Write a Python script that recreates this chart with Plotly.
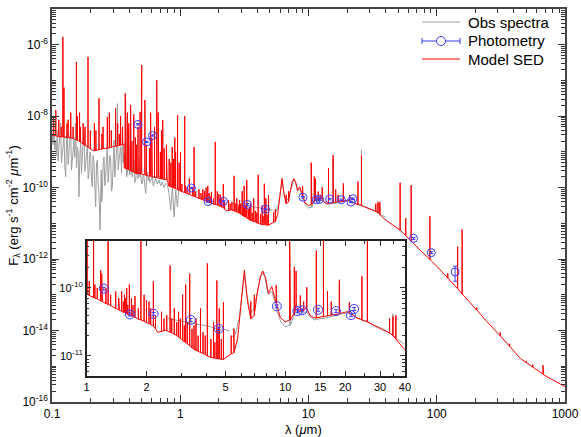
import plotly.graph_objects as go

# ---------------- data ----------------
# Model SED continuum: wavelength (micron), log10 flux (erg/s/cm2/um)
model_wl = [0.1, 0.107, 0.122, 0.144, 0.17, 0.206, 0.218, 0.26, 0.30, 0.364, 0.366, 0.45, 0.605, 0.79,
            0.816, 1.0, 1.2, 1.46, 1.8, 2.15, 2.28, 2.51, 3.04, 3.42, 4.14, 4.84, 5.44, 5.75, 5.98, 6.22,
            6.45, 6.65, 6.91, 7.2, 7.5, 7.7, 7.95, 8.22, 8.55, 8.83, 9.06, 9.42, 9.98, 10.6, 11.0, 11.3,
            11.7, 12.1, 12.7, 13.3, 13.9, 15.5, 16.8, 20.4, 22.9, 30.1, 39.4, 51.9, 74.3, 100, 157, 206,
            246, 313, 448, 681, 1000]
model_logf = [-8.53, -8.55, -8.58, -8.62, -8.75, -8.95, -8.96, -8.90, -8.85, -8.78, -9.45, -9.60, -9.70,
              -9.79, -9.95, -10.09, -10.20, -10.33, -10.45, -10.55, -10.65, -10.62, -10.77, -10.89, -11.01,
              -11.05, -10.96, -10.75, -10.28, -9.74, -10.20, -10.45, -10.42, -10.10, -9.82, -9.75, -9.85,
              -10.08, -9.98, -10.14, -10.25, -10.43, -10.50, -10.47, -10.38, -10.25, -10.35, -10.33, -10.29,
              -10.40, -10.44, -10.42, -10.40, -10.35, -10.44, -10.60, -10.89, -11.19, -11.75, -12.20,
              -12.96, -13.43, -13.75, -14.15, -14.78, -15.24, -15.57]

# Strong model emission lines: wavelength, base log flux, peak log flux
line_wl = [0.1026, 0.107, 0.1216, 0.124, 0.1335, 0.140, 0.155, 0.164, 0.1663, 0.175, 0.1909, 0.2326,
           0.25, 0.27, 0.280, 0.313, 0.3426, 0.3727, 0.3869, 0.397, 0.4102, 0.434, 0.4686, 0.4861,
           0.4959, 0.5007, 0.53, 0.5876, 0.63, 0.6563, 0.6725, 0.7136, 0.73, 0.866, 0.9069, 0.9531,
           1.005, 1.083, 1.176, 1.19, 1.282, 1.50, 1.55, 1.59, 1.64, 1.68, 1.75, 1.875, 1.945, 2.0,
           2.058, 2.166, 2.38, 2.63, 2.76, 2.9, 3.04, 3.15, 3.30, 3.55, 3.74, 4.05, 4.35, 4.52, 4.65,
           4.88, 6.98, 8.99, 10.51, 11.1, 11.33, 11.9, 12.37, 12.81, 14.32, 15.56, 16.3, 17.03, 18.71,
           21.0, 24.3, 25.89, 33.48, 34.8, 36.0, 51.81, 57.32, 63.18, 88.36, 121.9, 145.5, 157.7, 205,
           313, 370, 500, 560, 673]
line_base_logf = [-8.54, -8.55, -8.58, -8.58, -8.60, -8.61, -8.66, -8.70, -8.71, -8.78, -8.86, -8.93,
                  -8.91, -8.90, -8.89, -8.84, -8.81, -9.46, -9.48, -9.50, -9.52, -9.56, -9.60, -9.61,
                  -9.62, -9.62, -9.64, -9.68, -9.71, -9.72, -9.73, -9.75, -9.76, -9.99, -10.02, -10.05,
                  -10.09, -10.14, -10.19, -10.20, -10.24, -10.34, -10.36, -10.38, -10.40, -10.41, -10.43,
                  -10.47, -10.49, -10.51, -10.52, -10.56, -10.64, -10.65, -10.68, -10.72, -10.77, -10.80,
                  -10.85, -10.92, -10.95, -11.00, -11.03, -11.04, -11.04, -11.05, -10.40, -10.22, -10.47,
                  -10.40, -10.26, -10.34, -10.33, -10.30, -10.44, -10.42, -10.41, -10.40, -10.38, -10.36,
                  -10.47, -10.50, -10.66, -10.70, -10.75, -11.19, -11.34, -11.50, -12.01, -12.53, -12.83,
                  -12.97, -13.43, -14.15, -14.44, -14.90, -15.02, -15.22]
line_peak_logf = [-8.0, -7.83, -5.78, -7.2, -8.1, -7.9, -6.48, -7.9, -8.3, -8.2, -6.34, -7.50, -8.3,
                  -8.02, -7.9, -7.78, -8.0, -7.36, -7.9, -8.2, -7.69, -7.95, -8.3, -7.88, -7.05, -6.57,
                  -7.55, -7.9, -8.3, -6.99, -7.9, -8.4, -8.11, -8.86, -8.6, -7.97, -9.0, -8.0, -9.74,
                  -9.79, -8.86, -10.05, -10.1, -10.0, -9.95, -10.15, -10.12, -8.72, -10.1, -10.18, -10.2,
                  -9.9, -10.35, -9.67, -10.3, -10.35, -10.1, -9.95, -9.79, -10.45, -10.3, -9.64, -10.5,
                  -9.89, -10.3, -10.21, -10.1, -9.96, -9.3, -9.69, -9.75, -10.11, -10.2, -9.99, -9.45,
                  -9.09, -10.05, -10.2, -9.88, -10.21, -9.83, -9.1, -10.45, -10.42, -10.4, -9.86, -10.85,
                  -9.93, -10.80, -12.40, -11.65, -11.17, -13.36, -14.05, -14.37, -14.85, -14.95, -14.97]

# Weak model emission lines (the dense "grass" above the continuum)
weak_wl = [0.113, 0.118, 0.131, 0.146, 0.158, 0.181, 0.199, 0.214, 0.22, 0.245, 0.29, 0.325, 0.335,
           0.355, 0.3835, 0.389, 0.3935, 0.42, 0.447, 0.457, 0.545, 0.575, 0.60, 0.68, 0.70, 0.75, 0.78,
           0.82, 0.845, 0.886, 0.92, 0.98, 1.03, 1.10, 1.13, 1.25, 1.32, 1.40, 1.45, 1.53, 1.57, 1.61,
           1.71, 1.82, 2.10, 2.22, 2.45, 2.53, 2.68, 2.84, 2.96, 3.10, 3.21, 3.39, 3.47, 3.64, 3.85,
           3.95, 4.22, 4.42, 4.58, 4.76, 5.34, 5.51, 6.7]
weak_base_logf = [-8.57, -8.58, -8.60, -8.63, -8.68, -8.82, -8.92, -8.96, -8.96, -8.92, -8.87, -8.83,
                  -8.82, -8.79, -9.48, -9.48, -9.49, -9.54, -9.60, -9.61, -9.66, -9.68, -9.70, -9.74,
                  -9.75, -9.77, -9.78, -9.96, -9.98, -10.00, -10.03, -10.07, -10.11, -10.15, -10.16,
                  -10.23, -10.26, -10.30, -10.32, -10.36, -10.37, -10.39, -10.42, -10.46, -10.54, -10.60,
                  -10.63, -10.63, -10.66, -10.70, -10.74, -10.79, -10.82, -10.88, -10.90, -10.93, -10.96,
                  -10.98, -11.02, -11.03, -11.04, -11.05, -10.97, -10.95, -10.45]
weak_peak_logf = [-8.1, -8.3, -8.2, -8.3, -8.0, -8.3, -8.4, -8.2, -8.4, -8.5, -8.4, -8.2, -8.5, -8.3,
                  -8.5, -8.6, -8.4, -8.7, -8.6, -8.8, -8.8, -8.9, -8.6, -8.7, -9.0, -8.9, -8.8, -9.2,
                  -9.3, -9.2, -9.0, -9.3, -9.9, -9.95, -10.0, -10.0, -10.1, -10.05, -10.15, -10.2, -10.15,
                  -10.25, -10.25, -10.3, -10.3, -10.4, -10.45, -10.4, -10.45, -10.5, -10.45, -10.55,
                  -10.5, -10.6, -10.55, -10.7, -10.65, -10.7, -10.75, -10.8, -10.6, -10.75, -10.7, -10.6,
                  -10.2]

# Observed spectra (UV/optical segment and IR segment)
obs_uv_wl = [0.1005, 0.1020, 0.1036, 0.1051, 0.1067, 0.1083, 0.1100, 0.1116, 0.1133, 0.1150, 0.1168,
             0.1185, 0.1203, 0.1221, 0.1240, 0.1259, 0.1278, 0.1297, 0.1316, 0.1336, 0.1356, 0.1377,
             0.1398, 0.1419, 0.1440, 0.1462, 0.1484, 0.1506, 0.1529, 0.1552, 0.1576, 0.1600, 0.1624,
             0.1648, 0.1673, 0.1698, 0.1724, 0.1750, 0.1776, 0.1803, 0.1830, 0.1858, 0.1886, 0.1914,
             0.1943, 0.1972, 0.2002, 0.2032, 0.2063, 0.2094, 0.2126, 0.2158, 0.2191, 0.2224, 0.2257,
             0.2291, 0.2326, 0.237, 0.242, 0.2444, 0.2469, 0.2506, 0.2544, 0.2583, 0.2622, 0.2661,
             0.2701, 0.2742, 0.2783, 0.2825, 0.2868, 0.2911, 0.2955, 0.3000, 0.3045, 0.3091, 0.3138,
             0.3185, 0.3233, 0.3282, 0.3331, 0.3382, 0.3433, 0.3485, 0.3537, 0.3590, 0.3644, 0.3699,
             0.3755, 0.3812, 0.3869, 0.3928, 0.3987, 0.4047, 0.4108, 0.4170, 0.4233, 0.4297, 0.4362,
             0.4428, 0.4494, 0.4562, 0.4631, 0.4701, 0.4772, 0.4844, 0.4917, 0.4991, 0.5066, 0.5143,
             0.5220, 0.5299, 0.5379, 0.5460, 0.5542, 0.5626, 0.5711, 0.5797, 0.5884, 0.5973, 0.6063,
             0.6155, 0.6248, 0.6342, 0.6437, 0.6634, 0.6835, 0.7043, 0.7256, 0.7477, 0.7704, 0.7938,
             0.8180, 0.8429, 0.8685, 0.8949, 0.9222, 0.9502, 0.9791]
obs_uv_logf = [-8.48, -8.80, -8.11, -8.95, -8.67, -9.10, -8.39, -9.25, -8.86, -8.55, -8.20, -9.30,
               -9.04, -8.70, -8.58, -9.40, -9.70, -8.75, -8.48, -9.35, -8.95, -8.60, -8.30, -9.50,
               -9.23, -8.80, -8.67, -9.15, -8.20, -9.45, -8.86, -9.00, -10.26, -9.20, -8.58, -9.60,
               -9.04, -8.70, -8.48, -9.55, -9.32, -8.90, -8.86, -9.75, -9.60, -9.00, -9.04, -9.80,
               -9.98, -9.10, -9.32, -10.00, -10.54, -9.30, -9.23, -9.90, -10.16, -11.19, -9.51, -10.40,
               -10.16, -9.30, -9.14, -9.95, -9.70, -9.20, -8.86, -9.85, -9.51, -9.10, -9.23, -10.10,
               -9.98, -9.40, -8.67, -9.70, -9.42, -9.00, -7.65, -9.50, -9.23, -8.90, -8.86, -9.60,
               -8.39, -9.30, -9.04, -9.45, -7.55, -9.70, -9.60, -9.20, -8.86, -9.65, -8.20, -9.55,
               -9.70, -9.40, -9.23, -9.85, -9.79, -9.50, -9.42, -9.75, -9.14, -9.70, -9.60, -9.90,
               -9.88, -9.65, -9.70, -9.95, -10.16, -9.72, -9.56, -9.80, -9.70, -9.85, -9.79, -9.74,
               -9.70, -9.95, -9.88, -9.76, -9.74, -9.90, -9.79, -9.95, -9.84, -10.00, -9.88, -9.92,
               -10.16, -10.63, -9.98, -10.82, -10.07, -10.54, -9.98]
obs_ir_wl = [2.56, 2.8, 3.16, 3.5, 3.84, 4.2, 4.48, 4.9, 5.23, None, 5.38, 5.6, 5.85, 6.05, 6.22, 6.4,
             6.65, 6.9, 7.2, 7.5, 7.7, 7.9, 8.2, 8.55, 8.85, 9.1, 9.5, 10.0, 10.6, 11.0, 11.3, 11.6,
             12.1, 12.8, 13.3, 14.0, 15.0, 16.0, 17.0, 18.0, 19.0, 20.5, 22.0, 23.0, 25.0, 28.0, 31.0,
             34.0, 37.0, 39.5]
obs_ir_logf = [-10.45, -10.47, -10.50, -10.52, -10.55, -10.57, -10.60, -10.61, -10.63, None, -10.72,
               -10.68, -10.45, -10.05, -9.80, -10.10, -10.35, -10.33, -10.10, -9.85, -9.78, -9.85,
               -10.10, -10.05, -10.20, -10.35, -10.50, -10.57, -10.55, -10.42, -10.30, -10.40, -10.38,
               -10.35, -10.42, -10.47, -10.45, -10.44, -10.42, -10.40, -10.38, -10.37, -10.40, -10.44,
               -10.48, -10.55, -10.60, -10.68, -10.76, -10.82]
obs_line_wl = [10.51, 12.81, 15.56, 18.71, 25.89, 34.8, 35.9]
obs_line_base_logf = [-10.55, -10.35, -10.45, -10.39, -10.49, -10.69, -10.73]
obs_line_peak_logf = [-9.35, -10.0, -9.2, -9.95, -8.95, -10.38, -10.45]

# Photometry
phot_wl = [0.468, 0.546, 0.608, 1.22, 1.65, 2.17, 3.34, 4.62, 9.06, 11.5, 12.2, 14.6, 18.0, 21.4,
           22.2, 65.9, 90.6, 139]
phot_logf = [-8.23, -8.72, -8.54, -10.01, -10.39, -10.38, -10.47, -10.60, -10.27, -10.34, -10.33,
             -10.32, -10.34, -10.40, -10.31, -11.42, -11.82, -12.36]
phot_rel_err = [0.04, 0.04, 0.04, 0.05, 0.05, 0.05, 0.05, 0.06, 0.05, 0.05, 0.05, 0.05, 0.05, 0.05,
                0.05, 0.06, 0.06, 0.45]

legend_labels = ["Obs spectra", "Photometry", "Model SED"]


# ---------------- helpers ----------------
def merge_lines(cwl, clogf, lwl, lbase, lpeak):
    pts = [(w, f, 0) for w, f in zip(cwl, clogf)]
    lo, hi = min(cwl), max(cwl)
    for w, b, p in zip(lwl, lbase, lpeak):
        if lo <= w <= hi:
            pts += [(w, b, 1), (w, p, 2), (w, b, 3)]
    pts.sort(key=lambda t: (t[0], t[2]))
    return [t[0] for t in pts], [10 ** t[1] for t in pts]


mx, my = merge_lines(model_wl, model_logf, line_wl + weak_wl, line_base_logf + weak_base_logf,
                     line_peak_logf + weak_peak_logf)

ux, uy = merge_lines(obs_uv_wl, obs_uv_logf, obs_line_wl, obs_line_base_logf, obs_line_peak_logf)
cut = obs_ir_wl.index(None)
ax1, ay1 = merge_lines(obs_ir_wl[:cut], obs_ir_logf[:cut], obs_line_wl, obs_line_base_logf, obs_line_peak_logf)
ax2, ay2 = merge_lines(obs_ir_wl[cut + 1:], obs_ir_logf[cut + 1:], obs_line_wl, obs_line_base_logf,
                       obs_line_peak_logf)
ox = ux + [None] + ax1 + [None] + ax2
oy = uy + [None] + ay1 + [None] + ay2

pf = [10 ** v for v in phot_logf]
perr = [f * e for f, e in zip(pf, phot_rel_err)]

GRAY = "#9e9e9e"
RED = "#ff0000"
BLUE = "#3a3aff"
FONT = "Liberation Sans, Arial, Helvetica, sans-serif"

fig = go.Figure()
for ax, ay, sz in (("x", "y", 8), ("x2", "y2", 9)):
    fig.add_trace(go.Scatter(x=ox, y=oy, mode="lines", line=dict(color=GRAY, width=1),
                             name=legend_labels[0], xaxis=ax, yaxis=ay, showlegend=False,
                             connectgaps=False, hoverinfo="skip"))
    fig.add_trace(go.Scatter(x=mx, y=my, mode="lines", line=dict(color=RED, width=1),
                             name=legend_labels[2], xaxis=ax, yaxis=ay, showlegend=False,
                             hoverinfo="skip"))
    fig.add_trace(go.Scatter(x=phot_wl, y=pf, mode="markers", name=legend_labels[1],
                             marker=dict(symbol="circle-open", size=sz, color=BLUE,
                                         line=dict(width=1, color=BLUE)),
                             error_y=dict(type="data", array=perr, color=BLUE, thickness=1, width=2),
                             xaxis=ax, yaxis=ay, showlegend=False))

# ---- hand-drawn legend (matches the compact spacing of the reference) ----
PLOT_L, PLOT_W, PLOT_B, PLOT_H = 52, 513, 402, 393


def px(x):
    return (x - PLOT_L) / PLOT_W


def py(y):
    return (PLOT_B - y) / PLOT_H


shapes = []
annotations = []
for label, color, ypix in zip(legend_labels, [GRAY, BLUE, RED], [22, 41, 59]):
    shapes.append(dict(type="line", xref="paper", yref="paper", x0=px(422), x1=px(460),
                       y0=py(ypix), y1=py(ypix), line=dict(color=color, width=1)))
    annotations.append(dict(text=label, xref="paper", yref="paper", x=px(466), y=py(ypix),
                            xanchor="left", yanchor="middle", showarrow=False,
                            font=dict(size=15, color="black")))
# photometry symbol: caps at both ends and a circle in the middle
for xe in (422, 460):
    shapes.append(dict(type="line", xref="paper", yref="paper", x0=px(xe), x1=px(xe),
                       y0=py(38), y1=py(44), line=dict(color=BLUE, width=1)))
shapes.append(dict(type="circle", xref="paper", yref="paper", xsizemode="pixel", ysizemode="pixel",
                   xanchor=px(441), yanchor=py(41), x0=-4.5, x1=4.5, y0=-4.5, y1=4.5,
                   line=dict(color=BLUE, width=1), fillcolor="white"))

annotations.append(dict(text="λ (<i>μ</i>m)", xref="paper", yref="paper", x=0.49, y=-0.071,
                        xanchor="center", yanchor="middle", showarrow=False, font=dict(size=13)))

main_x_minor = [k * 10.0 ** e for e in range(-1, 3) for k in range(2, 10)]
main_y_major = [10.0 ** e for e in range(-16, -5, 2)]
main_y_minor = [k * 10.0 ** e for e in range(-16, -5) for k in range(2, 10)] + \
               [10.0 ** e for e in range(-15, -4, 2)]
ins_x_major = [1, 2, 5, 10, 15, 20, 30, 40]
ins_x_minor = [3, 4, 6, 7, 8, 9, 25, 35]
ins_y_minor = [k * 10.0 ** e for e in (-12, -11, -10) for k in range(2, 10)]

axis_common = dict(ticks="inside", mirror="allticks", showline=True, showgrid=False, zeroline=False,
                   automargin=False, tickcolor="#333", tickfont=dict(size=12, color="black"))

fig.update_layout(
    width=581, height=437,
    margin=dict(l=52, r=16, t=9, b=35),
    paper_bgcolor="white", plot_bgcolor="white",
    font=dict(family=FONT, color="black", size=12),
    showlegend=False,
    shapes=shapes,
    annotations=annotations,
    xaxis=dict(type="log", range=[-1, 3], tickvals=[0.1, 1, 10, 100, 1000],
               ticktext=["0.1", "1", "10", "100", "1000"], ticklen=7, linewidth=1.5, linecolor="#444",
               minor=dict(tickvals=main_x_minor, ticklen=4, ticks="inside", tickcolor="#333"),
               **axis_common),
    yaxis=dict(type="log", range=[-16, -5], tickvals=main_y_major,
               ticktext=["10<sup>%d</sup>" % e for e in range(-16, -5, 2)], ticklen=7, linewidth=1.5,
               linecolor="#444",
               minor=dict(tickvals=main_y_minor, ticklen=4, ticks="inside", tickcolor="#333"),
               title=dict(text="F<sub>λ</sub> (erg s<sup>-1</sup> cm<sup>-2</sup> <i>μ</i>m<sup>-1</sup>)",
                          font=dict(size=13), standoff=0),
               **axis_common),
    xaxis2=dict(type="log", range=[0, 1.60206], domain=[0.0676, 0.688], anchor="y2",
                tickvals=ins_x_major, ticktext=[str(v) for v in ins_x_major], ticklen=5,
                linewidth=1.5, linecolor="#222",
                minor=dict(tickvals=ins_x_minor, ticklen=3, ticks="inside", tickcolor="#333"),
                **{**axis_common, "tickfont": dict(size=11, color="black")}),
    yaxis2=dict(type="log", range=[-11.29, -9.31], domain=[0.0669, 0.4097], anchor="x2",
                tickvals=[1e-11, 1e-10], ticktext=["10<sup>-11</sup>", "10<sup>-10</sup>"],
                ticklen=5, linewidth=1.5, linecolor="#222",
                minor=dict(tickvals=ins_y_minor, ticklen=3, ticks="inside", tickcolor="#333"),
                **{**axis_common, "tickfont": dict(size=11, color="black")}),
)

fig.write_html("out.html", config={"displayModeBar": False},
               post_script="document.body.style.margin='0';document.body.style.overflow='hidden';")
